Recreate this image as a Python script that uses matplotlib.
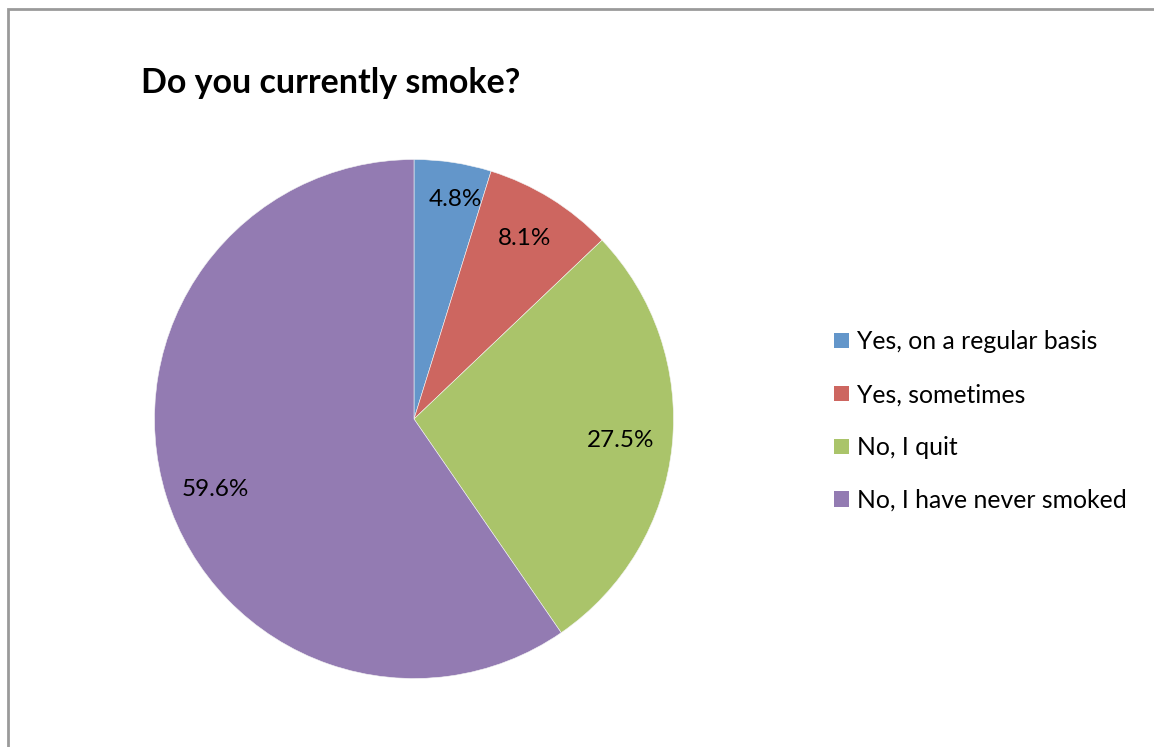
import matplotlib
matplotlib.use("Agg")
import matplotlib.pyplot as plt
from matplotlib.patches import Patch, Rectangle

categories = ["Yes, on a regular basis", "Yes, sometimes", "No, I quit",
              "No, I have never smoked"]
shares = [4.8, 8.1, 27.5, 59.6]
colors = ["#6396CA", "#CD6660", "#AAC46A", "#937BB2"]
title = "Do you currently smoke?"

W, H = 1154, 747
fig = plt.figure(figsize=(W / 100, H / 100), dpi=100)
fig.patch.set_facecolor("white")
FONT = ["Lato", "DejaVu Sans"]

# chart frame (only the top and left edges fall inside the canvas)
fig.add_artist(Rectangle((8 / W, -0.1), 1.5, 1 - 9 / H + 0.1,
                         transform=fig.transFigure, fill=False,
                         edgecolor="#9a9a9a", linewidth=2, clip_on=False))

cx, cy, r = 414, 419, 259.5
ax = fig.add_axes([(cx - r) / W, (H - cy - r) / H, 2 * r / W, 2 * r / H])
wedges, texts, autotexts = ax.pie(
    shares, colors=colors, startangle=90, counterclock=False,
    autopct=lambda p: f"{p:.1f}%", pctdistance=0.80,
    wedgeprops=dict(linewidth=0.4, edgecolor="#f4f4f4"),
    textprops=dict(fontsize=17.5, family=FONT, color="black"))
ax.set_xlim(-1, 1)
ax.set_ylim(-1, 1)
ax.set_aspect("equal")

# best-fit style placement: small pixel nudges (right, up) of the labels
nudges_px = [(10, 14), (1, 4), (0, 0), (0, -9)]
for t, (dx, dy) in zip(autotexts, nudges_px):
    x0, y0 = t.get_position()
    t.set_position((x0 + dx / r, y0 + dy / r))

fig.text(141 / W, 1 - 83 / H, title, fontsize=24.5, fontweight="bold",
         family=FONT, ha="left", va="center")

handles = [Patch(facecolor=c, edgecolor="none") for c in colors]
fig.legend(handles, categories, loc="upper left",
           bbox_to_anchor=(817 / W, 1 - 313 / H), frameon=False,
           prop=dict(family=FONT, size=17.8), handlelength=0.6,
           handleheight=0.6, handletextpad=0.3, labelspacing=1.21,
           borderpad=0.2)

fig.savefig("out.png", dpi=100)
